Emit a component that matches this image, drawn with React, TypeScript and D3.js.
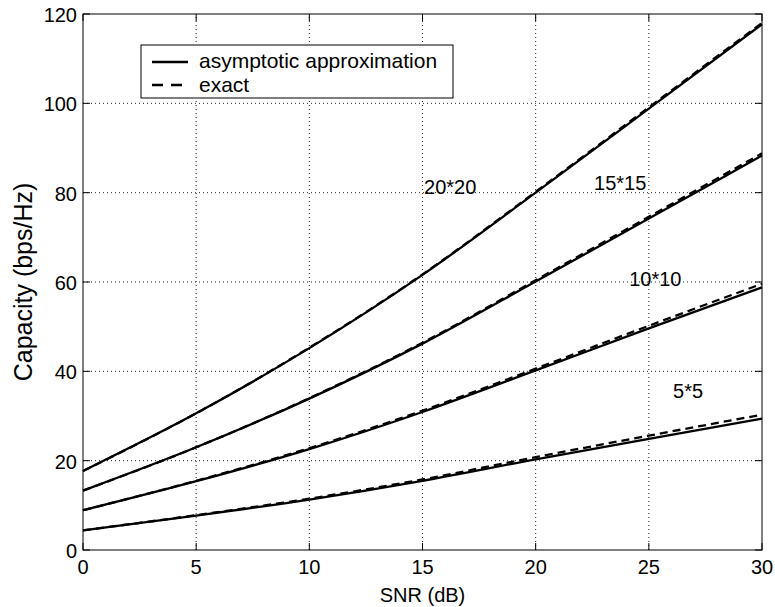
import * as d3 from 'd3';
import {useEffect} from 'react';

// SNR grid (dB) the curves were read at
const snrDb = [0, 5, 10, 15, 20, 25, 30];

// asymptotic approximation (solid)
const approx20 = [17.7, 30.6, 45.2, 61.6, 80.0, 98.8, 117.7];
const approx15 = [13.3, 23.0, 33.9, 46.2, 60.1, 74.2, 88.3];
const approx10 = [8.9, 15.4, 22.6, 30.9, 40.2, 49.6, 58.8];
const approx5 = [4.4, 7.7, 11.3, 15.5, 20.3, 24.9, 29.4];

// exact (dashed)
const exact20 = [17.7, 30.6, 45.3, 61.7, 80.2, 99.1, 118.0];
const exact15 = [13.3, 23.0, 34.0, 46.4, 60.4, 74.6, 88.8];
const exact10 = [8.9, 15.5, 22.8, 31.2, 40.6, 50.2, 59.6];
const exact5 = [4.4, 7.8, 11.5, 15.8, 20.8, 25.6, 30.3];

const xTicks = [0, 5, 10, 15, 20, 25, 30];
const yTicks = [0, 20, 40, 60, 80, 100, 120];

// curve labels: [text, snr, capacity]
const curveLabels: [string, number, number][] = [
    ['20*20', 15.07, 79.7],
    ['15*15', 22.58, 80.6],
    ['10*10', 24.13, 59.2],
    ['5*5', 26.07, 34.1],
];

const width = 775;
const height = 607;
const margin = {left: 83, right: 13, top: 14, bottom: 57};
const font = '"Liberation Sans", Arial, Helvetica, sans-serif';

export default function App() {

    useEffect(() => {
        document.body.style.margin = '0';
    }, []);

    const x = d3.scaleLinear().domain([0, 30]).range([margin.left, width - margin.right]);
    const y = d3.scaleLinear().domain([0, 120]).range([height - margin.bottom, margin.top]);

    const line = d3.line<[number, number]>()
        .x(d => x(d[0]))
        .y(d => y(d[1]))
        .curve(d3.curveMonotoneX);

    const toPts = (vals: number[]) => snrDb.map((s, i) => [s, vals[i]] as [number, number]);

    const solid = [approx20, approx15, approx10, approx5];
    const dashed = [exact20, exact15, exact10, exact5];

    const x0 = x(0), x1 = x(30), y0 = y(0), y1 = y(120);

    return (
        <svg width={width} height={height} style={{display: 'block', background: '#fff'}} fontFamily={font}>
            {/* grid */}
            <g stroke="#222" strokeWidth={1} strokeDasharray="1,3">
                {xTicks.slice(1, -1).map(t =>
                    <line key={'gx' + t} x1={x(t)} x2={x(t)} y1={y0} y2={y1}/>)}
                {yTicks.slice(1, -1).map(t =>
                    <line key={'gy' + t} x1={x0} x2={x1} y1={y(t)} y2={y(t)}/>)}
            </g>

            {/* curves */}
            <g fill="none" stroke="#000">
                {dashed.map((v, i) =>
                    <path key={'d' + i} d={line(toPts(v)) || ''} strokeWidth={2.3} strokeDasharray="8,5"/>)}
                {solid.map((v, i) =>
                    <path key={'s' + i} d={line(toPts(v)) || ''} strokeWidth={2.3}/>)}
            </g>

            {/* axes box + ticks */}
            <rect x={x0} y={y1} width={x1 - x0} height={y0 - y1} fill="none" stroke="#000" strokeWidth={1}/>
            <g stroke="#000" strokeWidth={1}>
                {xTicks.map(t => <g key={'tx' + t}>
                    <line x1={x(t)} x2={x(t)} y1={y0} y2={y0 - 7}/>
                    <line x1={x(t)} x2={x(t)} y1={y1} y2={y1 + 7}/>
                </g>)}
                {yTicks.map(t => <g key={'ty' + t}>
                    <line x1={x0} x2={x0 + 7} y1={y(t)} y2={y(t)}/>
                    <line x1={x1} x2={x1 - 7} y1={y(t)} y2={y(t)}/>
                </g>)}
            </g>

            {/* tick labels */}
            <g fontSize={20} fill="#000">
                {xTicks.map(t =>
                    <text key={'lx' + t} x={x(t)} y={y0 + 24} textAnchor="middle">{t}</text>)}
                {yTicks.map(t =>
                    <text key={'ly' + t} x={x0 - 6} y={y(t) + 8} textAnchor="end">{t}</text>)}
            </g>

            {/* axis titles */}
            <text x={(x0 + x1) / 2} y={602} textAnchor="middle" fontSize={20}>SNR (dB)</text>
            <text transform={`translate(32, ${(y0 + y1) / 2}) rotate(-90)`} textAnchor="middle" fontSize={25}>Capacity (bps/Hz)</text>

            {/* curve labels */}
            <g fontSize={20}>
                {curveLabels.map(([txt, s, c]) =>
                    <text key={txt} x={x(s)} y={y(c)}>{txt}</text>)}
            </g>

            {/* legend */}
            <g>
                <rect x={141} y={45} width={312} height={53} fill="#fff" stroke="#000" strokeWidth={1}/>
                <line x1={152} x2={188} y1={62} y2={62} stroke="#000" strokeWidth={2.3}/>
                <line x1={152} x2={188} y1={85} y2={85} stroke="#000" strokeWidth={2.3} strokeDasharray="11,8"/>
                <text x={199} y={68} fontSize={21}>asymptotic approximation</text>
                <text x={199} y={92} fontSize={21}>exact</text>
            </g>
        </svg>
    );
}
